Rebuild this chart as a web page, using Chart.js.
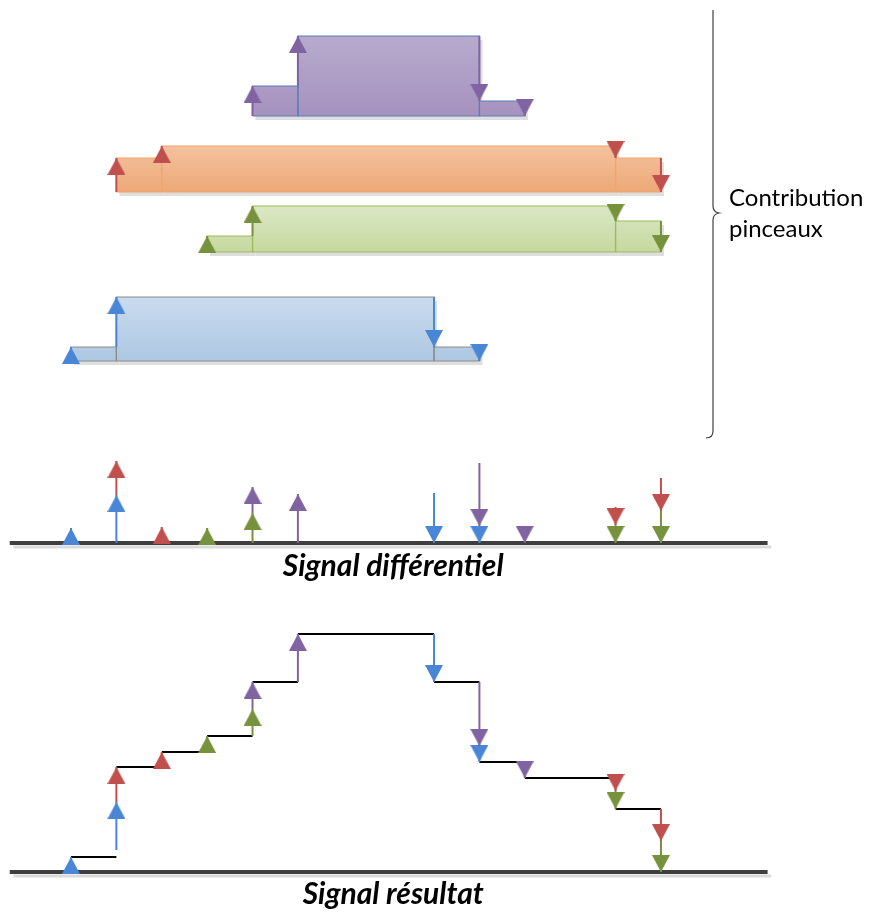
<!DOCTYPE html>
<html lang="fr">
<head>
<meta charset="utf-8">
<title>Contribution pinceaux</title>
<script src="https://cdn.jsdelivr.net/npm/chart.js@4.4.1/dist/chart.umd.min.js"></script>
<style>
  html, body { margin: 0; padding: 0; background: #fff; }
  #wrap { width: 874px; height: 914px; }
</style>
</head>
<body>
<div id="wrap"><canvas id="chart" width="874" height="914"></canvas></div>
<script>
// time columns where a brush starts, steps or stops
const edgeTimes = [0, 1, 2, 3, 4, 5, 8, 9, 10, 12, 13];

// brush profiles: time of each edge and the level held after it
const purpleEdges = [4, 5, 9, 10];
const purpleLevels = [30, 80, 15, 0];
const redEdges = [1, 2, 12, 13];
const redLevels = [34, 46, 34, 0];
const greenEdges = [3, 4, 12, 13];
const greenLevels = [16, 46, 31, 0];
const blueEdges = [0, 1, 8, 9];
const blueLevels = [14, 64, 14, 0];

// one arrow per brush step, stacked when two steps share a time
const stepTimes = [0, 1, 1, 2, 3, 4, 4, 5, 8, 9, 9, 10, 12, 12, 13, 13];
const stepBrush = ['blue', 'blue', 'red', 'red', 'green', 'green', 'purple', 'purple',
                   'blue', 'purple', 'blue', 'purple', 'red', 'green', 'red', 'green'];

// differential signal arrows (from -> to)
const diffFrom = [0, 0, 48, 0, 0, 0, 30, 0, 50, 80, 17, 17, 36, 18, 65, 32];
const diffTo   = [15, 48, 82, 16, 15, 30, 56, 49, 0, 17, 0, 0, 18, 0, 32, 0];

// resulting signal: level held between consecutive edge times, and its arrows
const resultLevels = [15, 105, 120, 136, 190, 238, 190, 110, 94, 63];
const resFrom = [0, 22, 70, 105, 120, 136, 163, 190, 238, 190, 126, 110, 97, 81, 63, 31];
const resTo   = [15, 70, 105, 120, 136, 163, 190, 238, 190, 126, 110, 94, 81, 63, 31, 0];

// layout
const W = 874, H = 914;
const X_LEFT = 71, X_UNIT = 45.38;   // pixel of time 0, pixels per time unit
const ROW_BASE = { purple: 116, red: 192, green: 252, blue: 361, diff: 543, result: 872 };
const AXIS_FROM = -1.35, AXIS_TO = 15.35;

const arrowColor = { blue: '#4a86d6', red: '#c0504d', green: '#76923c', purple: '#8064a2' };
const brushStyle = {
    purple: { top: '#b8aacd', bottom: '#a592bf', line: '#5b7db8' },
    red:    { top: '#f4c29f', bottom: '#eda877', line: '#f2a46c' },
    green:  { top: '#dbe7c5', bottom: '#c6d89f', line: '#9bbb59' },
    blue:   { top: '#c9dbef', bottom: '#adc7e2', line: '#8c8c8c' }
};

const brushes = [
    { key: 'purple', edges: purpleEdges, levels: purpleLevels },
    { key: 'red', edges: redEdges, levels: redLevels },
    { key: 'green', edges: greenEdges, levels: greenLevels },
    { key: 'blue', edges: blueEdges, levels: blueLevels }
];

// arrow heads: tip at the image centre so the point sits on the tip
function makeHead(color) {
    const w = 18, h = 17;
    const c = document.createElement('canvas');
    c.width = w; c.height = h * 2;
    const g = c.getContext('2d');
    g.fillStyle = color;
    g.beginPath();
    g.moveTo(w / 2, h);
    g.lineTo(w, h * 2);
    g.lineTo(0, h * 2);
    g.closePath();
    g.fill();
    return c;
}
const heads = {};
Object.keys(arrowColor).forEach(k => heads[k] = makeHead(arrowColor[k]));

function arrow(axis, t, from, to, key) {
    return {
        yAxisID: axis,
        data: [{ x: t, y: from }, { x: t, y: to }],
        borderColor: arrowColor[key],
        borderWidth: 2,
        fill: false,
        pointStyle: heads[key],
        pointRadius: [0, 4],
        pointRotation: to > from ? 0 : 180,
        order: 1
    };
}

function brushGradient(chart, b) {
    if (!chart.chartArea) return brushStyle[b.key].top;
    const y = chart.scales['y_' + b.key];
    const top = y.getPixelForValue(Math.max(...b.levels));
    const bottom = y.getPixelForValue(0);
    const grad = chart.ctx.createLinearGradient(0, top, 0, bottom);
    grad.addColorStop(0, brushStyle[b.key].top);
    grad.addColorStop(1, brushStyle[b.key].bottom);
    return grad;
}

const datasets = [];

brushes.forEach(b => {
    for (let i = 0; i < b.edges.length - 1; i++) {
        const t0 = b.edges[i], t1 = b.edges[i + 1], lv = b.levels[i];
        datasets.push({
            yAxisID: 'y_' + b.key,
            data: [{ x: t0, y: lv }, { x: t1, y: lv }],
            fill: 'origin',
            backgroundColor: ctx => brushGradient(ctx.chart, b),
            borderColor: 'rgba(0,0,0,0)',
            pointRadius: 0,
            order: 6
        });
        datasets.push({
            yAxisID: 'y_' + b.key,
            data: [{ x: t0, y: 0 }, { x: t0, y: lv }, { x: t1, y: lv }, { x: t1, y: 0 }, { x: t0, y: 0 }],
            fill: false,
            borderColor: brushStyle[b.key].line,
            borderWidth: 1.2,
            pointRadius: 0,
            order: 5
        });
    }
    b.edges.forEach((t, i) => {
        const from = i ? b.levels[i - 1] : 0;
        datasets.push(arrow('y_' + b.key, t, from, b.levels[i], b.key));
    });
});

// baselines of both signals
['diff', 'result'].forEach(row => {
    datasets.push({
        yAxisID: 'y_' + row,
        data: [{ x: AXIS_FROM + 0.08, y: -4 }, { x: AXIS_TO + 0.08, y: -4 }],
        borderColor: '#dadada', borderWidth: 3, pointRadius: 0, fill: false, order: 4
    });
    datasets.push({
        yAxisID: 'y_' + row,
        data: [{ x: AXIS_FROM, y: 0 }, { x: AXIS_TO, y: 0 }],
        borderColor: '#3f3f3f', borderWidth: 4, pointRadius: 0, fill: false, order: 3
    });
});

// resulting signal steps (horizontal parts only)
const stepData = [];
resultLevels.forEach((lv, i) => {
    stepData.push({ x: edgeTimes[i], y: lv }, { x: edgeTimes[i + 1], y: lv }, { x: edgeTimes[i + 1], y: null });
});
datasets.push({
    yAxisID: 'y_result', data: stepData, borderColor: '#000', borderWidth: 2,
    pointRadius: 0, fill: false, spanGaps: false, order: 2
});

stepTimes.forEach((t, i) => {
    datasets.push(arrow('y_diff', t, diffFrom[i], diffTo[i], stepBrush[i]));
    datasets.push(arrow('y_result', t, resFrom[i], resTo[i], stepBrush[i]));
});

// one hidden y axis per row, 1 unit = 1 px, 0 on the row baseline
const scales = {
    x: { type: 'linear', display: false, min: -X_LEFT / X_UNIT, max: (W - X_LEFT) / X_UNIT }
};
Object.keys(ROW_BASE).forEach(row => {
    scales['y_' + row] = { type: 'linear', display: false, min: -(H - ROW_BASE[row]), max: ROW_BASE[row] };
});

// drop shadow behind the brushes
const shadowPlugin = {
    id: 'brushShadow',
    beforeDatasetsDraw(chart) {
        const ctx = chart.ctx, xs = chart.scales.x;
        ctx.save();
        ctx.fillStyle = '#dedede';
        brushes.forEach(b => {
            const ys = chart.scales['y_' + b.key];
            for (let i = 0; i < b.edges.length - 1; i++) {
                const x0 = xs.getPixelForValue(b.edges[i]), x1 = xs.getPixelForValue(b.edges[i + 1]);
                const yt = ys.getPixelForValue(b.levels[i]), yb = ys.getPixelForValue(0);
                ctx.fillRect(x0 + 3, yt + 4, x1 - x0, yb - yt);
            }
        });
        ctx.restore();
    }
};

// labels and brace
const labelPlugin = {
    id: 'labels',
    afterDraw(chart) {
        const ctx = chart.ctx, xs = chart.scales.x;
        ctx.save();
        ctx.fillStyle = '#000';
        ctx.textAlign = 'center';
        ctx.textBaseline = 'middle';
        ctx.font = 'italic bold 30px Lato, "Open Sans", sans-serif';
        ctx.fillText('Signal différentiel', xs.getPixelForValue(7.1), chart.scales.y_diff.getPixelForValue(-23));
        ctx.fillText('Signal résultat', xs.getPixelForValue(7.1), chart.scales.y_result.getPixelForValue(-22));

        ctx.textAlign = 'left';
        ctx.font = '24px Lato, "Open Sans", sans-serif';
        ctx.fillText('Contribution', 729, 198);
        ctx.fillText('pinceaux', 729, 229);

        ctx.strokeStyle = '#404040';
        ctx.lineWidth = 1.2;
        ctx.beginPath();
        ctx.moveTo(713, 10);
        ctx.lineTo(713, 206);
        ctx.quadraticCurveTo(713, 212, 719, 213);
        ctx.quadraticCurveTo(713, 214, 713, 220);
        ctx.lineTo(713, 431);
        ctx.quadraticCurveTo(713, 438, 706, 438);
        ctx.stroke();
        ctx.restore();
    }
};

new Chart(document.getElementById('chart'), {
    type: 'line',
    data: { datasets },
    options: {
        responsive: false,
        devicePixelRatio: 1,
        animation: false,
        events: [],
        layout: { padding: 0, autoPadding: false },
        plugins: { legend: { display: false }, tooltip: { enabled: false }, title: { display: false } },
        scales
    },
    plugins: [shadowPlugin, labelPlugin]
});
</script>
</body>
</html>
